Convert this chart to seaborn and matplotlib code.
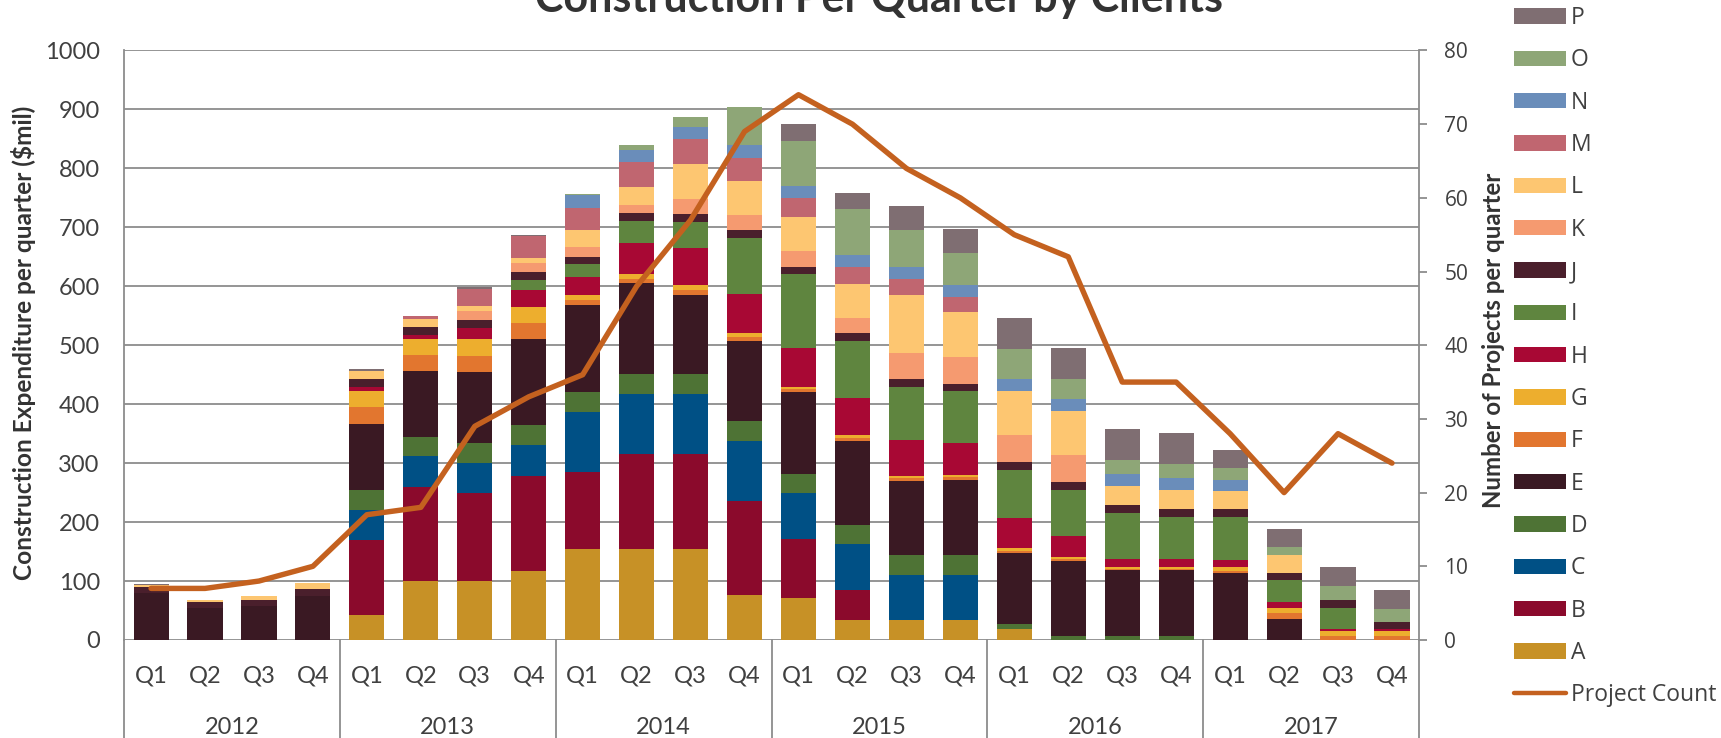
import matplotlib
matplotlib.use("Agg")
import matplotlib.pyplot as plt
import matplotlib.transforms as mtransforms
from matplotlib.patches import Patch
from matplotlib.lines import Line2D
import numpy as np
import pandas as pd
import seaborn as sns

years = ["2012", "2013", "2014", "2015", "2016", "2017"]
quarters = ["Q1", "Q2", "Q3", "Q4"]
clients = list("ABCDEFGHIJKLMNOP")

# construction spend per client ($mil), 2012 Q1 .. 2017 Q4
A = [0, 0, 0, 0, 42, 100, 100, 117, 154, 154, 154, 76, 71, 34, 34, 34, 19, 0, 0, 0, 0, 0, 0, 0]
B = [0, 0, 0, 0, 127, 160, 150, 161, 131, 161, 161, 160, 101, 51, 0, 0, 0, 0, 0, 0, 0, 0, 0, 0]
C = [0, 0, 0, 0, 52, 52, 50, 52, 102, 102, 102, 102, 78, 78, 77, 77, 0, 0, 0, 0, 0, 0, 0, 0]
D = [0, 0, 0, 0, 34, 32, 35, 34, 34, 35, 35, 34, 32, 32, 33, 33, 8, 7, 7, 7, 0, 0, 0, 0]
E = [80, 55, 57, 75, 112, 113, 120, 146, 148, 153, 134, 135, 138, 142, 125, 127, 121, 127, 111, 112, 113, 36, 0, 0]
F = [0, 0, 0, 0, 28, 27, 27, 27, 7, 7, 7, 7, 5, 5, 5, 5, 3, 3, 2, 2, 4, 9, 7, 7]
G = [0, 0, 0, 0, 27, 27, 29, 28, 9, 9, 9, 7, 5, 5, 4, 4, 5, 3, 4, 3, 7, 9, 9, 9]
H = [0, 0, 0, 0, 7, 7, 18, 29, 30, 53, 63, 66, 65, 64, 61, 55, 51, 36, 13, 13, 12, 11, 3, 3]
I = [0, 0, 0, 0, 0, 0, 0, 16, 22, 37, 44, 95, 126, 97, 90, 88, 82, 79, 79, 72, 73, 36, 36, 0]
J = [10, 10, 10, 12, 13, 13, 13, 14, 13, 14, 14, 13, 12, 13, 13, 12, 13, 13, 13, 13, 13, 13, 12, 11]
K = [0, 0, 0, 0, 0, 0, 16, 16, 16, 13, 25, 26, 27, 26, 44, 45, 45, 45, 0, 0, 0, 0, 0, 0]
L = [3, 3, 7, 10, 15, 13, 8, 8, 30, 31, 60, 57, 57, 57, 100, 76, 75, 76, 32, 32, 30, 30, 0, 0]
M = [0, 0, 0, 0, 0, 5, 30, 37, 36, 42, 42, 40, 33, 29, 27, 26, 0, 0, 0, 0, 0, 0, 0, 0]
N = [0, 0, 0, 0, 0, 0, 0, 0, 23, 20, 21, 21, 20, 20, 20, 20, 21, 20, 21, 21, 20, 0, 0, 0]
O = [0, 0, 0, 0, 0, 0, 0, 0, 1, 9, 16, 65, 77, 78, 62, 54, 51, 34, 24, 23, 20, 13, 25, 23]
P = [2, 0, 0, 0, 3, 0, 3, 2, 0, 0, 0, 0, 28, 27, 42, 42, 53, 53, 52, 53, 31, 31, 31, 31]
project_count = [7, 7, 8, 10, 17, 18, 29, 33, 36, 48, 57, 69, 74, 70, 64, 60, 55, 52, 35, 35, 28, 20, 28, 24]

colors = {
    "A": "#C79126", "B": "#8B0A2C", "C": "#005085", "D": "#4E7335",
    "E": "#3A1923", "F": "#E2762F", "G": "#EDAE2E", "H": "#A80834",
    "I": "#5F853F", "J": "#4A1F2C", "K": "#F59A70", "L": "#FDC671",
    "M": "#C06670", "N": "#6A8DBA", "O": "#8EA677", "P": "#7F6E72",
}
line_color = "#C4611F"
grid_color = "#8C8C8C"
text_color = "#404040"

series = [A, B, C, D, E, F, G, H, I, J, K, L, M, N, O, P]
pos = np.arange(len(project_count))
df = pd.DataFrame({
    "pos": np.tile(pos, len(clients)),
    "client": np.repeat(clients, len(pos)),
    "spend": np.concatenate(series),
})

sns.set_style("white")
plt.rcParams["font.family"] = ["Lato", "DejaVu Sans"]

fig = plt.figure(figsize=(17.21, 7.38), dpi=100)
ax = fig.add_axes([0.0721, 0.1328, 0.7524, 0.7988])

# stacked bars: first hue level ends up on top, so feed P..A
sns.histplot(data=df, x="pos", weights="spend", hue="client", hue_order=clients[::-1],
             multiple="stack", discrete=True, shrink=0.65, palette=colors,
             alpha=1, linewidth=0, legend=False, ax=ax)
ax.set_xlim(-0.5, len(pos) - 0.5)
ax.set_ylim(0, 1000)
ax.set_yticks(range(0, 1001, 100))
ax.yaxis.grid(True, color=grid_color, lw=1.3)
ax.set_axisbelow(True)
ax.set_xlabel("")
ax.set_ylabel("")
for s in ["top", "bottom", "right"]:
    ax.spines[s].set_visible(False)
ax.spines["left"].set_color(grid_color)
ax.spines["left"].set_linewidth(1.3)
ax.tick_params(axis="y", length=0, pad=17.5, labelsize=17, labelcolor=text_color)
ax.set_xticks(pos)
ax.set_xticklabels(quarters * len(years))
ax.tick_params(axis="x", length=0, pad=18.4, labelsize=17, labelcolor=text_color)

ax2 = ax.twinx()
sns.lineplot(x=pos, y=project_count, ax=ax2, color=line_color, linewidth=3.9)
ax2.set_ylim(0, 80)
ax2.set_yticks(range(0, 81, 10))
ax2.set_ylabel("")
for s in ["top", "bottom", "left"]:
    ax2.spines[s].set_visible(False)
ax2.spines["right"].set_color(grid_color)
ax2.spines["right"].set_linewidth(1.3)
ax2.tick_params(axis="y", length=5.8, width=1.3, color=grid_color, pad=12.5,
                labelsize=15, labelcolor=text_color)
for t in ax2.get_yticklabels():
    t.set_family("Open Sans")

# two-level category axis: year names and separators
trans = mtransforms.blended_transform_factory(ax.transData, ax.transAxes)
for k, yr in enumerate(years):
    ax.text(4 * k + 1.5, -0.149, yr, transform=trans, ha="center", va="center",
            fontsize=17, color=text_color)
for k in range(len(years) + 1):
    ax.plot([4 * k - 0.5, 4 * k - 0.5], [0, -0.2], transform=trans, color=grid_color,
            lw=1.3, clip_on=False)

fig.text(0.0139, 0.535, "Construction Expenditure per quarter ($mil)", rotation=90,
         ha="center", va="center", fontsize=17.6, fontweight="bold", color="#333333")
fig.text(0.868, 0.539, "Number of Projects per quarter", rotation=90,
         ha="center", va="center", fontsize=17.3, fontweight="bold", color="#333333")
fig.text(0.511, 0.984, "Construction Per Quarter by Clients", ha="center", va="baseline",
         fontsize=31, fontweight="bold", color="#333333")

handles = [Patch(facecolor=colors[c], edgecolor="none") for c in clients[::-1]]
handles.append(Line2D([0], [0], color=line_color, lw=3.2, solid_capstyle="round"))
labels = clients[::-1] + ["Project Count"]
fig.legend(handles, labels, loc="upper left", bbox_to_anchor=(0.8797, 0.9919),
           frameon=False, borderpad=0, borderaxespad=0, labelspacing=0.80,
           handlelength=2.27, handleheight=0.655, handletextpad=0.2,
           prop={"family": "Open Sans", "size": 16.5}, labelcolor=text_color)

fig.savefig("out.png", dpi=100)
